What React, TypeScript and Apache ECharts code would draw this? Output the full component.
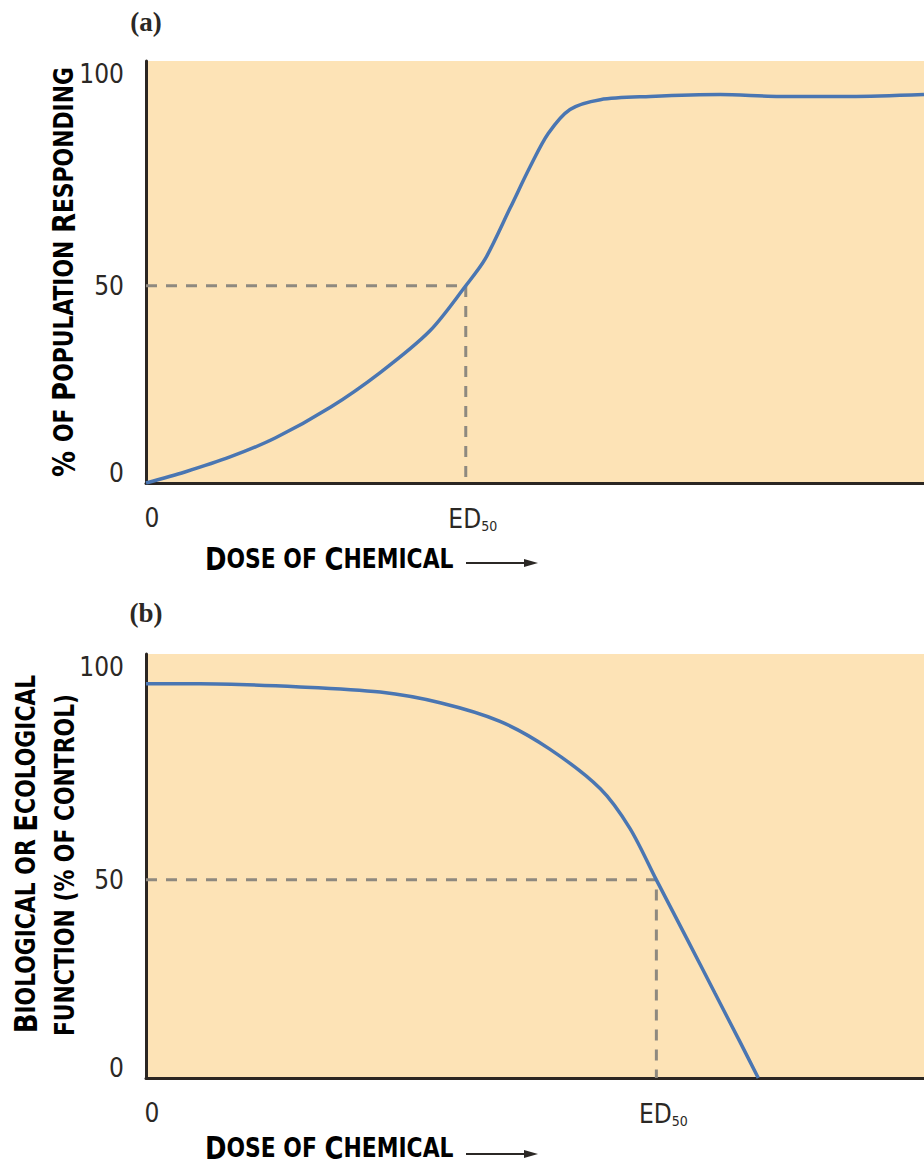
import React, { useEffect, useRef } from 'react';
import * as echarts from 'echarts';

// ---- data ----
const doseA = [0, 5.0, 10.8, 16.6, 23.7, 30.1, 36.5, 41.1, 43.6, 46.8, 49.4, 51.7, 54.5, 58.4, 64.8, 73.8, 81.5, 90.5, 100];
const responseA = [0, 2.8, 6.6, 11.4, 19.2, 28.0, 38.6, 50, 56.8, 69.7, 80.3, 88.6, 94.7, 97.2, 98.0, 98.5, 98.0, 98.0, 98.5];
const doseB = [0, 6.9, 19.8, 30.1, 37.8, 45.5, 51.9, 58.4, 62.2, 65.6, 69.3, 73.1, 76.3, 78.7];
const functionB = [99.5, 99.5, 98.7, 97.4, 94.7, 90.0, 83.0, 73.0, 63.0, 50, 36.0, 21.5, 9.3, 0];
const ed50A = 41.1;
const ed50B = 65.6;
const yTicks = [0, 50, 100];
const panelLabels = ['(a)', '(b)'];

const SANS = "'Liberation Sans Narrow', 'DejaVu Sans Condensed', 'Open Sans', sans-serif";
const SERIF = "'Liberation Serif', 'DejaVu Serif', serif";
const TEXT = '#2b2825';
const BG = '#fde3b6';
const CURVE = '#4a76b2';
const DASH = '#8e897f';
const AXIS = '#2b2622';

const capsRich = {
  B: { fontFamily: SANS, fontSize: 32, fontWeight: 'bold', color: TEXT, lineHeight: 28 },
  s: { fontFamily: SANS, fontSize: 27, fontWeight: 'bold', color: TEXT, lineHeight: 28 },
};

function xAxisFor(gridIndex: number, ed: number) {
  return {
    type: 'value',
    gridIndex,
    min: 0,
    max: 100,
    axisLine: { show: true, onZero: false, lineStyle: { color: AXIS, width: 3 } },
    axisTick: { show: false },
    splitLine: { show: false },
    axisLabel: {
      customValues: [0, ed],
      margin: 22,
      fontFamily: SANS,
      fontSize: 26,
      color: TEXT,
      formatter: (v: number) => (v === 0 ? '{z|0}' : '{e|ED}{sub|50}'),
      rich: {
        z: { fontFamily: SANS, fontSize: 26, color: TEXT, padding: [0, 0, 0, 12] },
        e: { fontFamily: SANS, fontSize: 26, color: TEXT, padding: [0, 0, 0, 14] },
        sub: { fontFamily: SANS, fontSize: 14, color: TEXT, verticalAlign: 'bottom', padding: [14, 0, 0, 0] },
      },
    },
  };
}

function yAxisFor(gridIndex: number) {
  return {
    type: 'value',
    gridIndex,
    min: 0,
    max: 107,
    axisLine: { show: true, onZero: false, lineStyle: { color: AXIS, width: 3 } },
    axisTick: { show: false },
    splitLine: { show: false },
    axisLabel: {
      customValues: yTicks,
      margin: 22,
      formatter: (v: number) => (v === 100 ? '{t|' + v + '}' : v === 0 ? '{z|' + v + '}' : '{m|' + v + '}'),
      rich: {
        t: { fontFamily: SANS, fontSize: 26, color: TEXT, padding: [0, 0, 30, 0] },
        m: { fontFamily: SANS, fontSize: 26, color: TEXT },
        z: { fontFamily: SANS, fontSize: 26, color: TEXT, padding: [0, 0, 20, 0] },
      },
    },
  };
}

function arrow(x: number, y: number) {
  return [
    { type: 'line', shape: { x1: x, y1: y, x2: x + 62, y2: y }, style: { stroke: TEXT, lineWidth: 2 } },
    { type: 'polygon', shape: { points: [[x + 58, y - 4], [x + 72, y], [x + 58, y + 4]] }, style: { fill: TEXT } },
  ];
}

export default function App() {
  const ref = useRef<HTMLDivElement>(null);
  useEffect(() => {
    if (!ref.current) return;
    const chart = echarts.init(ref.current, undefined, { renderer: 'svg' });
    const dashA = [[0, 50], [ed50A, 50], [ed50A, 0]];
    const dashB = [[0, 50], [ed50B, 50], [ed50B, 0]];
    const SX = 0.9;
    chart.setOption({
      animation: false,
      backgroundColor: '#ffffff',
      grid: [
        { left: 146, top: 61, right: 0, height: 422, show: true, backgroundColor: BG, borderWidth: 0 },
        { left: 146, top: 654, right: 0, height: 424, show: true, backgroundColor: BG, borderWidth: 0 },
      ],
      xAxis: [xAxisFor(0, ed50A), xAxisFor(1, ed50B)],
      yAxis: [yAxisFor(0), yAxisFor(1)],
      series: [
        {
          type: 'line', xAxisIndex: 0, yAxisIndex: 0, data: dashA, symbol: 'none', z: 2,
          lineStyle: { color: DASH, width: 3, type: [11, 9] },
        },
        {
          type: 'line', xAxisIndex: 0, yAxisIndex: 0, data: doseA.map((d, i) => [d, responseA[i]]),
          symbol: 'none', smooth: 0.3, z: 3,
          lineStyle: { color: CURVE, width: 3.5 },
        },
        {
          type: 'line', xAxisIndex: 1, yAxisIndex: 1, data: dashB, symbol: 'none', z: 2,
          lineStyle: { color: DASH, width: 3, type: [11, 9] },
        },
        {
          type: 'line', xAxisIndex: 1, yAxisIndex: 1, data: doseB.map((d, i) => [d, functionB[i]]),
          symbol: 'none', smooth: 0.3, z: 3,
          lineStyle: { color: CURVE, width: 3.5 },
        },
      ],
      graphic: [
        { type: 'text', x: 146, y: 22, style: { text: panelLabels[0], fontFamily: SERIF, fontSize: 27, fontWeight: 'bold', fill: TEXT, align: 'center', verticalAlign: 'middle' } },
        { type: 'text', x: 146, y: 613, style: { text: panelLabels[1], fontFamily: SERIF, fontSize: 27, fontWeight: 'bold', fill: TEXT, align: 'center', verticalAlign: 'middle' } },
        {
          type: 'text', x: 64, y: 272, rotation: Math.PI / 2, scaleX: SX,
          style: {
            text: '{B|% }{s|OF }{B|P}{s|OPULATION }{B|R}{s|ESPONDING}',
            rich: capsRich, align: 'center', verticalAlign: 'middle',
          },
        },
        {
          type: 'text', x: 26, y: 854, rotation: Math.PI / 2, scaleX: SX,
          style: {
            text: '{B|B}{s|IOLOGICAL OR }{B|E}{s|COLOGICAL}',
            rich: capsRich, align: 'center', verticalAlign: 'middle',
          },
        },
        {
          type: 'text', x: 65, y: 865, rotation: Math.PI / 2, scaleX: SX,
          style: {
            text: '{s|FUNCTION (% OF CONTROL)}',
            rich: capsRich, align: 'center', verticalAlign: 'middle',
          },
        },
        {
          type: 'text', x: 205, y: 559, scaleX: SX,
          style: { text: '{B|D}{s|OSE OF }{B|C}{s|HEMICAL}', rich: capsRich, align: 'left', verticalAlign: 'middle' },
        },
        {
          type: 'text', x: 205, y: 1148, scaleX: SX,
          style: { text: '{B|D}{s|OSE OF }{B|C}{s|HEMICAL}', rich: capsRich, align: 'left', verticalAlign: 'middle' },
        },
        ...arrow(466, 563),
        ...arrow(466, 1154),
      ],
    });
    return () => chart.dispose();
  }, []);
  return (
    <div
      ref={ref}
      style={{ position: 'absolute', left: 0, top: 0, width: 924, height: 1168 }}
    />
  );
}
